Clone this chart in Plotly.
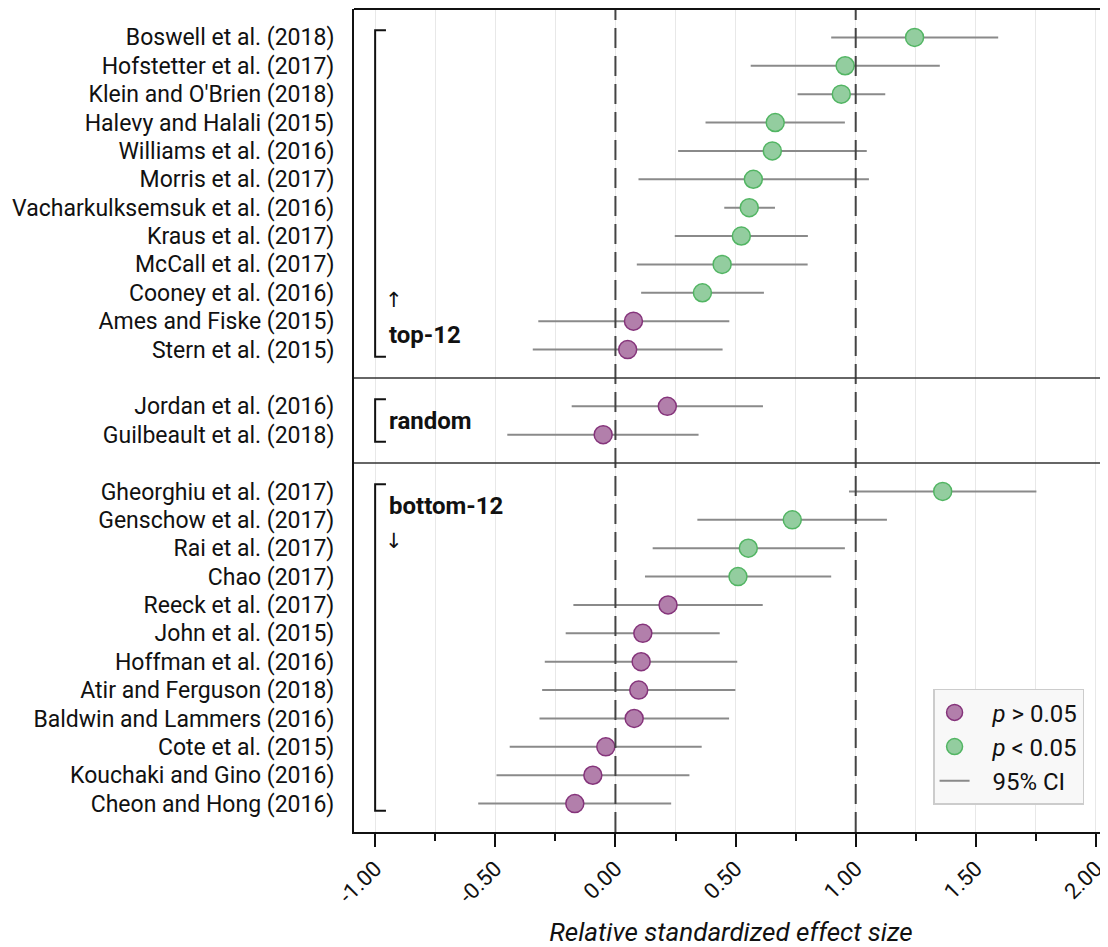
import plotly.graph_objects as go

# ---- data (top to bottom) ----
studies_top = ["Boswell et al. (2018)", "Hofstetter et al. (2017)", "Klein and O'Brien (2018)",
               "Halevy and Halali (2015)", "Williams et al. (2016)", "Morris et al. (2017)",
               "Vacharkulksemsuk et al. (2016)", "Kraus et al. (2017)", "McCall et al. (2017)",
               "Cooney et al. (2016)", "Ames and Fiske (2015)", "Stern et al. (2015)"]
effect_top = [1.245, 0.956, 0.940, 0.665, 0.653, 0.574, 0.557, 0.524, 0.444, 0.362, 0.075, 0.051]
lo_top = [0.898, 0.563, 0.758, 0.375, 0.261, 0.096, 0.453, 0.247, 0.089, 0.107, -0.321, -0.344]
hi_top = [1.593, 1.350, 1.123, 0.955, 1.046, 1.055, 0.664, 0.801, 0.800, 0.618, 0.474, 0.446]

studies_random = ["Jordan et al. (2016)", "Guilbeault et al. (2018)"]
effect_random = [0.216, -0.051]
lo_random = [-0.182, -0.450]
hi_random = [0.614, 0.346]

studies_bottom = ["Gheorghiu et al. (2017)", "Genschow et al. (2017)", "Rai et al. (2017)",
                  "Chao (2017)", "Reeck et al. (2017)", "John et al. (2015)",
                  "Hoffman et al. (2016)", "Atir and Ferguson (2018)", "Baldwin and Lammers (2016)",
                  "Cote et al. (2015)", "Kouchaki and Gino (2016)", "Cheon and Hong (2016)"]
effect_bottom = [1.362, 0.736, 0.553, 0.510, 0.219, 0.114, 0.107, 0.097, 0.078, -0.040, -0.094, -0.169]
lo_bottom = [0.972, 0.341, 0.155, 0.123, -0.175, -0.207, -0.294, -0.305, -0.316, -0.440, -0.495, -0.571]
hi_bottom = [1.752, 1.130, 0.955, 0.898, 0.613, 0.434, 0.507, 0.499, 0.473, 0.359, 0.308, 0.232]

group_labels = ["top-12", "random", "bottom-12"]
legend_names = ["<i>p</i> &gt; 0.05", "<i>p</i> &lt; 0.05", "95% CI"]
x_tickvals = [-1.0, -0.5, 0.0, 0.5, 1.0, 1.5, 2.0]
x_ticktext = ["-1.00", "-0.50", "0.00", "0.50", "1.00", "1.50", "2.00"]
x_minorvals = [-1.0, -0.75, -0.5, -0.25, 0.0, 0.25, 0.5, 0.75, 1.0, 1.25, 1.5, 1.75, 2.0]
ref_lines = [0.0, 1.0]

# ---- layout of rows: one blank row between groups ----
groups = [(studies_top, effect_top, lo_top, hi_top),
          (studies_random, effect_random, lo_random, hi_random),
          (studies_bottom, effect_bottom, lo_bottom, hi_bottom)]
names, eff, lo, hi, pos = [], [], [], [], []
group_spans, separators = [], []
p = 1
for gi, (s, e, l, h) in enumerate(groups):
    start = p
    for k in range(len(s)):
        names.append(s[k]); eff.append(e[k]); lo.append(l[k]); hi.append(h[k]); pos.append(p)
        p += 1
    group_spans.append((start, p - 1))
    if gi < len(groups) - 1:
        separators.append(p)
        p += 1
n_rows = p  # range 0 .. n_rows

sig = [(l > 0) or (h < 0) for l, h in zip(lo, hi)]

PURPLE_FILL = "#b27fab"
PURPLE_EDGE = "#85347b"
GREEN_FILL = "#93cd9f"
GREEN_EDGE = "#52b563"
CI_COLOR = "#8a8a8a"
PAD = "&nbsp;&nbsp;&nbsp;"

fig = go.Figure()

# CI lines
ci_x, ci_y = [], []
for l, h, yy in zip(lo, hi, pos):
    ci_x += [l, h, None]
    ci_y += [yy, yy, None]
fig.add_trace(go.Scatter(x=ci_x, y=ci_y, mode="lines", line=dict(color=CI_COLOR, width=2),
                         name=PAD + legend_names[2], legendrank=3, hoverinfo="skip"))

ns_x = [e for e, s in zip(eff, sig) if not s]
ns_y = [y for y, s in zip(pos, sig) if not s]
s_x = [e for e, s in zip(eff, sig) if s]
s_y = [y for y, s in zip(pos, sig) if s]

fig.add_trace(go.Scatter(x=ns_x, y=ns_y, mode="markers", name=PAD + legend_names[0], legendrank=1,
                         marker=dict(size=18, color=PURPLE_FILL, line=dict(color=PURPLE_EDGE, width=1.5))))
fig.add_trace(go.Scatter(x=s_x, y=s_y, mode="markers", name=PAD + legend_names[1], legendrank=2,
                         marker=dict(size=18, color=GREEN_FILL, line=dict(color=GREEN_EDGE, width=1.5))))

shapes = []
# reference dashed lines
for rv in ref_lines:
    shapes.append(dict(type="line", xref="x", yref="paper", x0=rv, x1=rv, y0=0, y1=1,
                       line=dict(color="#444444", width=2, dash="20px,8px"), layer="above"))
# group separators
for sp in separators:
    shapes.append(dict(type="line", xref="paper", yref="y", x0=0, x1=1, y0=sp, y1=sp,
                       line=dict(color="#333333", width=1.5)))
# top border
shapes.append(dict(type="line", xref="paper", yref="paper", x0=0, x1=1, y0=1, y1=1,
                   line=dict(color="#111111", width=2)))
# brackets
bx = x_tickvals[0]
bx2 = bx + 0.045
for (a, b) in group_spans:
    shapes.append(dict(type="path", xref="x", yref="y",
                       path=f"M {bx2},{a-0.25} L {bx},{a-0.25} L {bx},{b+0.25} L {bx2},{b+0.25}",
                       line=dict(color="#111111", width=2)))

annotations = []
tx = bx + 0.05
(a0, b0), (a1, b1), (a2, b2) = group_spans
annotations.append(dict(x=tx - 0.018, y=b0 - 1.75, text="↑", showarrow=False, xanchor="left", yanchor="middle",
                        font=dict(size=21, color="#111111", family="DejaVu Sans")))
annotations.append(dict(x=tx, y=b0 - 0.5, text="<b>" + group_labels[0] + "</b>", showarrow=False,
                        xanchor="left", yanchor="middle", font=dict(size=24, color="#111111")))
annotations.append(dict(x=tx, y=(a1 + b1) / 2, text="<b>" + group_labels[1] + "</b>", showarrow=False,
                        xanchor="left", yanchor="middle", font=dict(size=24, color="#111111")))
annotations.append(dict(x=tx, y=a2 + 0.5, text="<b>" + group_labels[2] + "</b>", showarrow=False,
                        xanchor="left", yanchor="middle", font=dict(size=24, color="#111111")))
annotations.append(dict(x=tx - 0.018, y=a2 + 1.75, text="↓", showarrow=False, xanchor="left", yanchor="middle",
                        font=dict(size=21, color="#111111", family="DejaVu Sans")))

# the page body adds an 8px offset; size the figure so the plot area lands where the reference has it
fig.update_layout(
    width=1100, height=939,
    margin=dict(l=346, r=0, t=1, b=115),
    plot_bgcolor="white", paper_bgcolor="white",
    font=dict(family="Roboto", color="#111111", size=23),
    showlegend=True,
    legend=dict(x=0.768, y=0.174, xanchor="left", yanchor="top",
                bgcolor="#f8f8f8", bordercolor="#cccccc", borderwidth=1.5,
                font=dict(size=24, family="Roboto"), itemwidth=30, tracegroupgap=0),
    shapes=shapes, annotations=annotations,
)
fig.update_xaxes(range=[-1.088, 2.05], tickmode="array", tickvals=x_tickvals, ticktext=x_ticktext,
                 tickangle=-45, ticks="outside", ticklen=13, tickwidth=1.5, tickcolor="#111111",
                 tickfont=dict(size=22),
                 showgrid=True, gridcolor="#e8e8e8", gridwidth=1,
                 minor=dict(tickmode="array", tickvals=x_minorvals, ticks="outside", ticklen=7,
                            tickwidth=1.5, tickcolor="#111111", showgrid=True, gridcolor="#e8e8e8"),
                 showline=True, linecolor="#111111", linewidth=2, zeroline=False,
                 title=dict(text="<i>Relative standardized effect size</i>", font=dict(size=26), standoff=16))
fig.update_yaxes(range=[n_rows, 0], tickmode="array", tickvals=pos, ticktext=names,
                 ticks="outside", ticklen=13, tickcolor="rgba(0,0,0,0)",
                 tickfont=dict(size=23), showgrid=False, zeroline=False,
                 showline=True, linecolor="#111111", linewidth=2)

fig.write_html("out.html")
